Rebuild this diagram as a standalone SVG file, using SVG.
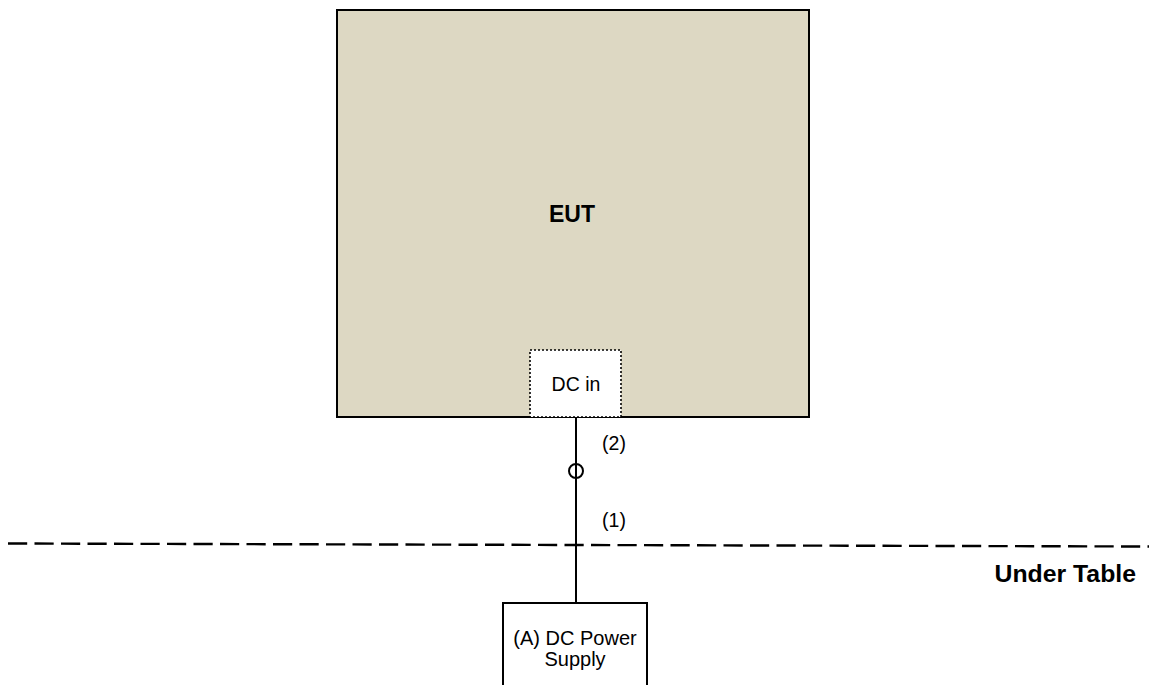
<svg xmlns="http://www.w3.org/2000/svg" width="1149" height="685" viewBox="0 0 1149 685">
<style>
.t{font-family:"Liberation Sans",Arial,sans-serif;fill:#000}
.b{font-weight:bold}
.box{stroke:#000;stroke-width:2}
</style>
<rect width="1149" height="685" fill="#fff"/>
<g id="eut">
<rect class="box" x="337" y="10" width="472" height="407" fill="#DDD8C3"/>
<text class="t b" x="572" y="222" font-size="23" text-anchor="middle">EUT</text>
</g>
<g id="dcin">
<rect x="530" y="350" width="91" height="67" fill="#fff" stroke="#000" stroke-width="1.6" stroke-dasharray="2 2"/>
<text class="t" x="576" y="391" font-size="19.5" text-anchor="middle">DC in</text>
</g>
<g id="psu">
<rect class="box" x="503" y="603" width="144" height="100" fill="#fff"/>
<text class="t" x="575" y="645" font-size="20" text-anchor="middle">(A) DC Power</text>
<text class="t" x="575" y="666" font-size="20" text-anchor="middle">Supply</text>
</g>
<g id="table-edge">
<line x1="8" y1="543.5" x2="1149" y2="546.5" stroke="#000" stroke-width="2.4" stroke-dasharray="19.2 7.3"/>
<text class="t b" x="1136" y="582" font-size="24.8" text-anchor="end">Under Table</text>
</g>
<g id="connectors">
<line x1="576" y1="417" x2="576" y2="603" stroke="#000" stroke-width="2"/>
<circle cx="576" cy="471" r="7" fill="none" stroke="#000" stroke-width="2"/>
<text class="t" x="614" y="450" font-size="19.5" text-anchor="middle">(2)</text>
<text class="t" x="614" y="527" font-size="19.5" text-anchor="middle">(1)</text>
</g>
</svg>
